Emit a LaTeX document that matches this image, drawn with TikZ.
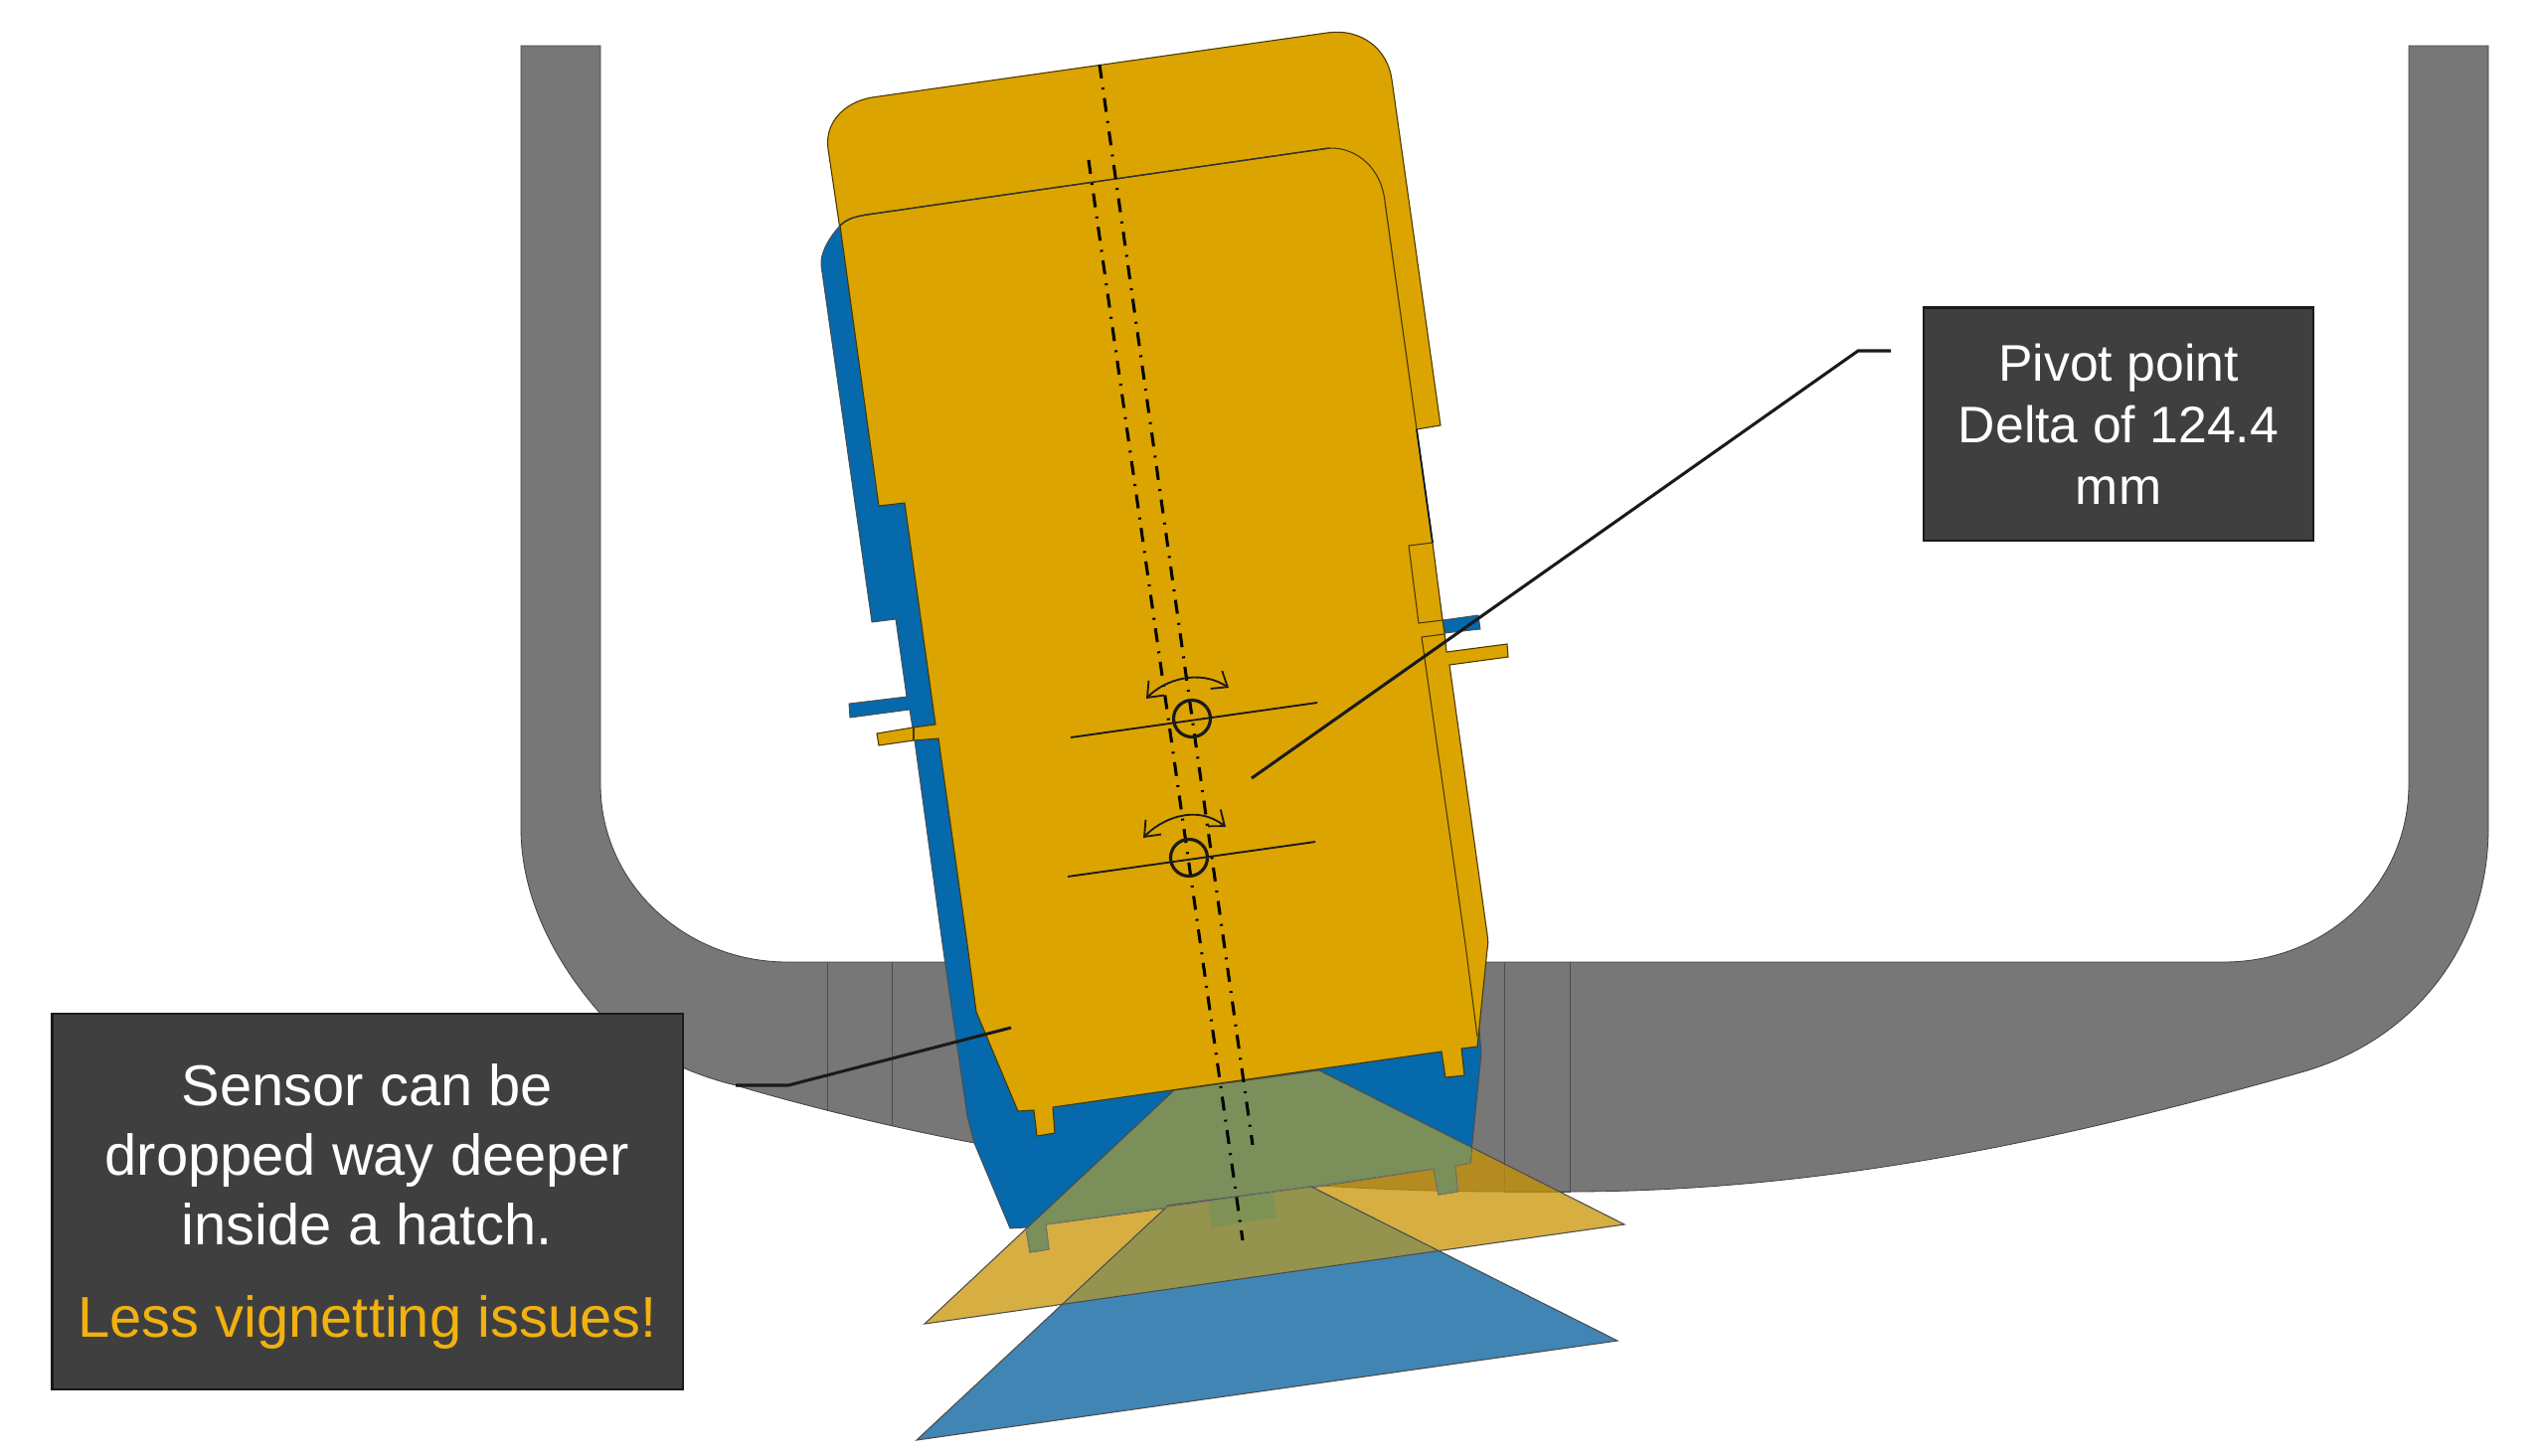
\documentclass[tikz,border=0pt]{standalone}
\usepackage{fontspec}
\setmainfont{Liberation Sans}
\usetikzlibrary{arrows.meta}
\definecolor{hullgray}{HTML}{777777}
\definecolor{senyellow}{HTML}{DBA400}
\definecolor{conegold}{HTML}{C89303}
\definecolor{senblue}{HTML}{0569AC}
\definecolor{conegreen}{HTML}{7A8F5A}
\definecolor{coneblue}{HTML}{4085B3}
\definecolor{conemix}{HTML}{94944E}
\definecolor{lensmix}{HTML}{7F9255}
\definecolor{boxfill}{HTML}{3F3F3F}
\definecolor{lessorange}{HTML}{F1B10F}
\definecolor{inkline}{HTML}{1A1A1A}
\tikzset{
  hull/.style={fill=hullgray,draw=black!75,line width=.6pt},
  hullrib/.style={draw=black!70,line width=.7pt},
  bodyline/.style={draw=black!45!senyellow!60!black,line width=.8pt,line join=miter},
  conefine/.style={draw=black!70,line width=.8pt},
  centre/.style={draw=black,line width=2.3pt,dash pattern=on 10.5pt off 7pt on 1.5pt off 6.5pt},
  swing/.style={draw=inkline,line width=1.4pt,{Straight Barb[length=10pt,width=16pt]}-{Straight Barb[length=10pt,width=16pt]}},
  datum/.style={draw=inkline,line width=1.4pt},
  pivot/.style={draw=inkline,line width=2.4pt},
  leader/.style={draw=inkline,line width=2.3pt},
  callout/.style={draw=inkline,line width=2pt,fill=boxfill,text=white,align=center,inner sep=0pt}
}
\def\yconepath{(1181,1097) -- (930,1332) -- (1634,1232) -- (1327,1077) -- cycle}
\def\bconepath{(1175,1213) -- (922,1449) -- (1627,1349) -- (1319,1194) -- cycle}
\def\bluepath{(845,227) .. controls (833,240) and (825,255) .. (826,267) -- (852,450) -- (877,626) -- (901,623) -- (912,701) -- (854,708) -- (855,722) -- (915,714) -- (920,745) -- (948,950) -- (973,1123) -- (980,1150) -- (1016,1236) -- (1032,1235) -- (1036,1260) -- (1055,1257) -- (1052,1232) -- (1215,1210) -- (1218,1235) -- (1284,1225) -- (1280,1201) -- (1442,1176) -- (1447,1202) -- (1466,1199) -- (1464,1173) -- (1479,1170) -- (1490,1060) -- (1453,637) -- (1489,633) -- (1487,619) -- (1451,624) -- (1393,203) -- cycle}
\begin{document}
\begin{tikzpicture}[x=.75pt,y=-.75pt]
\useasboundingbox (0,0) rectangle (2560,1464);
% hull
\path[hull] (524,46) -- (604,46) -- (604,789) .. controls (604,890) and (690,968) .. (792,968) -- (2237,968) .. controls (2340,968) and (2423,890) .. (2423,789) -- (2423,46) -- (2503,46) -- (2503,833) .. controls (2503,950) and (2430,1045) .. (2318,1078) .. controls (2100,1140) and (1850,1199) .. (1579,1199) -- (1513,1199) .. controls (1330,1199) and (1130,1180) .. (980,1150) .. controls (890,1133) and (800,1110) .. (740,1092) .. controls (690,1080) and (640,1055) .. (604,1020) .. controls (560,970) and (524,905) .. (524,833) -- cycle;
\draw[hullrib] (832,968) -- (832,1118);
\draw[hullrib] (897,968) -- (897,1133);
\draw[hullrib] (1513,968) -- (1513,1199) -- (1579,1199) -- (1579,968);
% rear sensor
\path[bodyline,fill=senyellow] (870,400) -- (833,150) .. controls (829,125) and (848,103) .. (877,98) -- (1335,33) .. controls (1370,28) and (1396,50) .. (1400,80) -- (1449,428) -- (1425,432) -- cycle;
% yellow cone
\fill[conegold,fill opacity=.75] \yconepath;
% blue body
\path[fill=senblue] \bluepath;
\draw[black!70,line width=.7pt] \bluepath;
\begin{scope}
  \clip \bluepath;
  \fill[conegreen] \yconepath;
\end{scope}
% blue cone
\fill[coneblue] \bconepath;
\begin{scope}
  \clip \bconepath;
  \fill[conemix] \yconepath;
  \fill[lensmix] (1215,1201) -- (1218,1235) -- (1284,1225) -- (1280,1190) -- cycle;
\end{scope}
\draw[conefine] \yconepath;
\draw[conefine] \bconepath;
\draw[black!55,line width=.7pt] (1036,1260) -- (1032,1235) (1036,1260) -- (1055,1257) -- (1052,1232) -- (1442,1176) -- (1447,1202) -- (1466,1199) -- (1464,1173) -- (1479,1170);
% front sensor
\path[bodyline,fill=senyellow] (845,227) .. controls (852,220) and (860,218) .. (872,216) -- (1337,149) .. controls (1365,148) and (1390,170) .. (1393,203) -- (1425,432) -- (1441,546) -- (1451,624) -- (1453,637) -- (1455,656) -- (1516,648) -- (1517,661) -- (1458,669) -- (1496,940) .. controls (1497,947) and (1497,950) .. (1496,955) -- (1486,1053) -- (1470,1055) -- (1473,1082) -- (1454,1084) -- (1450,1058) -- (1059,1114) -- (1061,1140) -- (1043,1143) -- (1040,1117) -- (1024,1118) -- (982,1018) -- (973,950) -- (944,743) -- (919,745) -- (884,750) -- (882,738) -- (918,732) -- (941,729) -- (910,506) -- (884,509) -- cycle;
\draw[black!80,line width=1.1pt] (845,227) .. controls (852,220) and (860,218) .. (872,216) -- (1337,149);
\draw[black!80!senblue,line width=1.3pt] (1425,432) -- (1441,546);
\draw[bodyline] (1441,546) -- (1417,549) -- (1427,627) -- (1451,624);
\draw[bodyline] (1453,638) -- (1430,641) -- (1474,950) -- (1486,1043);
\draw[bodyline] (919,732) -- (919,745);
% centre lines
\coordinate (axisAstart) at (1106,65);
\coordinate (axisAend) at (1260,1152);
\coordinate (axisBstart) at (1095,161);
\coordinate (axisBend) at (1250,1248);
\draw[centre] (axisAstart) -- (axisAend);
\draw[centre] (axisBstart) -- (axisBend);
% pivots
\coordinate (datumAleft) at (1077,742);
\coordinate (datumAright) at (1325,707);
\coordinate (datumBleft) at (1074,882);
\coordinate (datumBright) at (1323,847);
\draw[datum] (datumAleft) -- (datumAright);
\draw[datum] (datumBleft) -- (datumBright);
\draw[pivot] (1199,723) circle[radius=18.5];
\draw[pivot] (1196,863) circle[radius=18.5];
\coordinate (swingAleft) at (1153,703);
\coordinate (swingAright) at (1236,692);
\coordinate (swingBleft) at (1150,843);
\coordinate (swingBright) at (1233,832);
\draw[swing] (swingAleft) .. controls (1170,685) and (1205,672) .. (swingAright);
\draw[swing] (swingBleft) .. controls (1167,825) and (1202,808) .. (swingBright);
% callouts
\node[callout,minimum width=476pt,minimum height=283.5pt,font=\fontsize{43.4pt}{52.5pt}\selectfont] (sensorbox) at (369.5,1209)
  {\rule{0pt}{39pt}Sensor can be\\dropped way deeper\\inside a hatch.\\[17.25pt]\textcolor{lessorange}{Less vignetting issues!}};
\node[callout,minimum width=294pt,minimum height=176pt,font=\fontsize{38.8pt}{46.5pt}\selectfont] (pivotbox) at (2131,426.5)
  {Pivot point\\Delta of 124.4\\mm};
% leaders
\coordinate (pivotfree) at (1902,353);
\coordinate (pivotbend) at (1869,353);
\coordinate (pivotend) at (1259,783);
\draw[leader] (pivotfree) -- (pivotbend) -- (pivotend);
\coordinate (sensorfree) at (740,1092);
\coordinate (sensorbend) at (793,1092);
\coordinate (sensorend) at (1017,1034);
\draw[leader] (sensorfree) -- (sensorbend) -- (sensorend);
\end{tikzpicture}
\end{document}
